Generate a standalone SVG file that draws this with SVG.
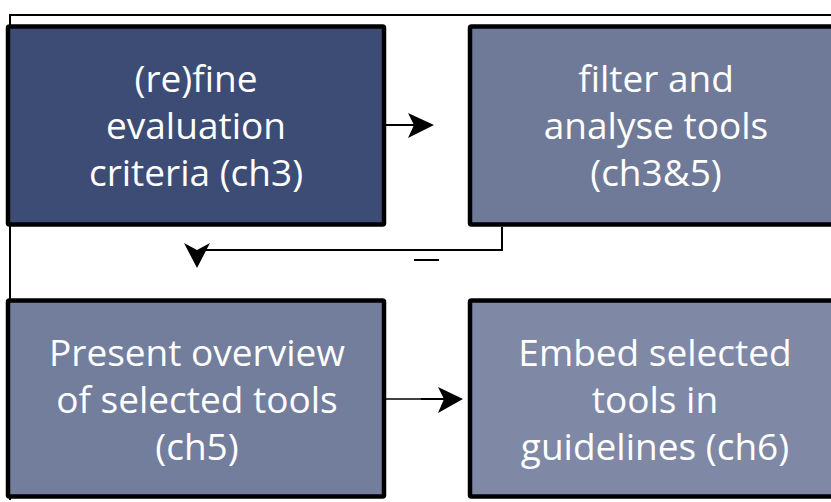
<svg xmlns="http://www.w3.org/2000/svg" width="831" height="502" viewBox="0 0 831 502">
<style>
.box{stroke:#000;stroke-width:4.5}
.t{font-family:"Open Sans","Noto Sans","Liberation Sans",sans-serif;font-size:37px;fill:#fff;text-anchor:middle}
.ln{stroke:#000;stroke-width:2;fill:none}
.ah{fill:#000}
</style>
<rect width="831" height="502" fill="#fff"/>
<g id="frame">
<polyline class="ln" points="831,15 10,15 10,500"/>
</g>
<g id="node1">
<rect class="box" x="8" y="26.5" width="376" height="198" rx="1.5" fill="#3c4c75"/>
<text class="t" x="196" y="92">(re)fine</text>
<text class="t" x="196" y="139">evaluation</text>
<text class="t" x="196" y="186">criteria (ch3)</text>
</g>
<g id="node2">
<rect class="box" x="470" y="26.5" width="376" height="198" rx="1.5" fill="#6f7a98"/>
<text class="t" x="656" y="92">filter and</text>
<text class="t" x="656" y="139">analyse tools</text>
<text class="t" x="656" y="186">(ch3&amp;5)</text>
</g>
<g id="node3">
<rect class="box" x="8" y="300.5" width="376" height="196" rx="1.5" fill="#737d9c"/>
<text class="t" x="197" y="366">Present overview</text>
<text class="t" x="197" y="413">of selected tools</text>
<text class="t" x="197" y="460">(ch5)</text>
</g>
<g id="node4">
<rect class="box" x="470" y="300.5" width="376" height="196" rx="1.5" fill="#7f88a5"/>
<text class="t" x="655" y="366">Embed selected</text>
<text class="t" x="655" y="413">tools in</text>
<text class="t" x="655" y="460">guidelines (ch6)</text>
</g>
<g id="connectors">
<line class="ln" x1="386" y1="125" x2="414" y2="125"/>
<polygon class="ah" points="434,125 408,113 414,125 408,138"/>
<polyline class="ln" points="502,227 502,250 205,250"/>
<polygon class="ah" points="197,268 184,243 197,250 210,243"/>
<line class="ln" x1="414" y1="260" x2="439" y2="260"/>
<line x1="386" y1="399" x2="421" y2="399" stroke="#000" stroke-width="1.5"/>
<line class="ln" x1="421" y1="399" x2="445" y2="399" stroke-width="2.5"/>
<polygon class="ah" points="463,399 438,387 444,399 438,413"/>
</g>
</svg>
